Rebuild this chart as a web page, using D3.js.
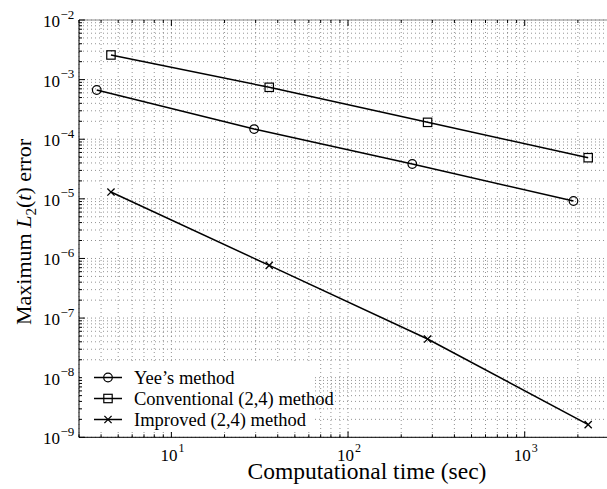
<!DOCTYPE html>
<html><head><meta charset="utf-8">
<script src="https://cdn.jsdelivr.net/npm/d3@7"></script>
<style>body{margin:0;background:#fff;} svg{display:block;}</style>
</head><body>
<svg id="c" width="607" height="489"></svg>
<script>
const seriesNames = ["Yee\u2019s method", "Conventional (2,4) method", "Improved (2,4) method"];
const yeeTime = [3.78, 29.4, 231, 1888];
const yeeErr = [6.7e-4, 1.48e-4, 3.84e-5, 9.2e-6];
const convTime = [4.55, 35.8, 282, 2287];
const convErr = [2.59e-3, 7.43e-4, 1.92e-4, 4.9e-5];
const impTime = [4.55, 35.8, 282, 2287];
const impErr = [1.30e-5, 7.66e-7, 4.45e-8, 1.63e-9];
const xMajor = [1, 2, 3];
const yMajor = [-2, -3, -4, -5, -6, -7, -8, -9];

const svg = d3.select("#c");
const L = 79, R = 609, T = 20, B = 437.3;
const x = d3.scaleLog().domain([3, 3000]).range([L, R]);
const y = d3.scaleLog().domain([1e-9, 1e-2]).range([B, T]);
const font = "'Liberation Serif','Times New Roman',serif";

const xTicks = [];
for (let d = 0; d <= 3; d++) for (let m = 1; m <= 9; m++) { const v = m * Math.pow(10, d); if (v >= 3 && v <= 3000) xTicks.push(v); }
const yTicks = [];
for (let d = -9; d <= -2; d++) for (let m = 1; m <= 9; m++) { const v = m * Math.pow(10, d); if (v >= 1e-9 * 0.999 && v <= 1e-2 * 1.001) yTicks.push(v); }
const isMaj = v => Math.abs(Math.log10(v) - Math.round(Math.log10(v))) < 1e-6;

// grid
const g = svg.append("g");
g.selectAll(".gx").data(xTicks).enter().append("line")
  .attr("x1", d => x(d)).attr("x2", d => x(d)).attr("y1", T).attr("y2", B)
  .attr("stroke", "#777").attr("stroke-width", 0.8).attr("stroke-dasharray", "1,3");
g.selectAll(".gy").data(yTicks).enter().append("line")
  .attr("y1", d => y(d)).attr("y2", d => y(d)).attr("x1", L).attr("x2", R)
  .attr("stroke", "#777").attr("stroke-width", 0.8).attr("stroke-dasharray", "1,3");

// frame
svg.append("line").attr("x1", L).attr("x2", R).attr("y1", T).attr("y2", T).attr("stroke", "#888").attr("stroke-width", 1);
svg.append("line").attr("x1", L).attr("x2", R).attr("y1", B).attr("y2", B).attr("stroke", "#000").attr("stroke-width", 1);
svg.append("line").attr("x1", L).attr("x2", L).attr("y1", T).attr("y2", B).attr("stroke", "#000").attr("stroke-width", 1);

// ticks (inward)
xTicks.forEach(v => {
  const len = isMaj(v) ? 6 : 3;
  svg.append("line").attr("x1", x(v)).attr("x2", x(v)).attr("y1", B).attr("y2", B - len).attr("stroke", "#000");
  svg.append("line").attr("x1", x(v)).attr("x2", x(v)).attr("y1", T).attr("y2", T + len).attr("stroke", "#000");
});
yTicks.forEach(v => {
  const len = isMaj(v) ? 6 : 3;
  svg.append("line").attr("y1", y(v)).attr("y2", y(v)).attr("x1", L).attr("x2", L + len).attr("stroke", "#000");
});

// tick labels
xMajor.forEach(e => {
  const t = svg.append("text").attr("x", x(Math.pow(10, e)) - 11).attr("y", 461)
    .attr("font-family", font).attr("font-size", 17).attr("fill", "#000");
  t.append("tspan").text("10");
  t.append("tspan").attr("dx", 1).attr("dy", -9).attr("font-size", 12).text(String(e));
});
yMajor.forEach(e => {
  const t = svg.append("text").attr("x", 43).attr("y", y(Math.pow(10, e)) + 7)
    .attr("font-family", font).attr("font-size", 17).attr("fill", "#000");
  t.append("tspan").text("10");
  t.append("tspan").attr("dx", 0.5).attr("dy", -8.5).attr("font-size", 13).text("\u2212" + String(-e));
});

// axis titles
svg.append("text").attr("x", 367).attr("y", 479).attr("text-anchor", "middle")
  .attr("font-family", font).attr("font-size", 23.5).attr("fill", "#000").text("Computational time (sec)");
const yt = svg.append("text").attr("transform", "translate(31,232) rotate(-90)")
  .attr("text-anchor", "middle").attr("font-family", font).attr("font-size", 22).attr("fill", "#000");
yt.append("tspan").text("Maximum ");
yt.append("tspan").attr("font-style", "italic").text("L");
yt.append("tspan").attr("dy", 5).attr("font-size", 15).text("2");
yt.append("tspan").attr("dy", -5).text("(");
yt.append("tspan").attr("font-style", "italic").text("t");
yt.append("tspan").text(") error");

// series
const series = [
  { t: yeeTime, e: yeeErr, m: "circle" },
  { t: convTime, e: convErr, m: "square" },
  { t: impTime, e: impErr, m: "cross" }
];
const line = d3.line().x(d => x(d[0])).y(d => y(d[1]));
function marker(sel, type, cx, cy) {
  if (type === "circle") sel.append("circle").attr("cx", cx).attr("cy", cy).attr("r", 4.3).attr("fill", "none").attr("stroke", "#000").attr("stroke-width", 1.2);
  else if (type === "square") sel.append("rect").attr("x", cx - 4.2).attr("y", cy - 4.2).attr("width", 8.4).attr("height", 8.4).attr("fill", "none").attr("stroke", "#000").attr("stroke-width", 1.2);
  else {
    sel.append("path").attr("d", `M${cx-3.6},${cy-3.6}L${cx+3.6},${cy+3.6}M${cx-3.6},${cy+3.6}L${cx+3.6},${cy-3.6}`).attr("stroke", "#000").attr("stroke-width", 1.3);
  }
}
series.forEach(s => {
  const pts = s.t.map((t, i) => [t, s.e[i]]);
  svg.append("path").attr("d", line(pts)).attr("fill", "none").attr("stroke", "#000").attr("stroke-width", 1.5);
  pts.forEach(p => marker(svg, s.m, x(p[0]), y(p[1])));
});

// legend
svg.append("rect").attr("x", 82).attr("y", 364).attr("width", 232).attr("height", 68).attr("fill", "#fff");
seriesNames.forEach((n, i) => {
  const yy = 377.5 + i * 21;
  svg.append("line").attr("x1", 94).attr("x2", 122).attr("y1", yy).attr("y2", yy).attr("stroke", "#000").attr("stroke-width", 1.5);
  marker(svg, series[i].m, 108, yy);
  svg.append("text").attr("x", 134).attr("y", yy + 6).attr("font-family", font).attr("font-size", 18.5).attr("fill", "#000").text(n);
});
</script>
</body></html>
